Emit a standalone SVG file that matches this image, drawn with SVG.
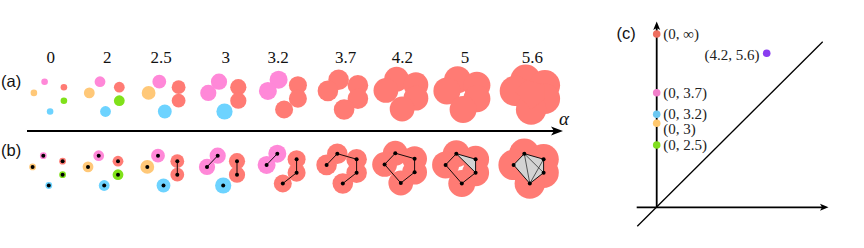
<svg xmlns="http://www.w3.org/2000/svg" xmlns:xlink="http://www.w3.org/1999/xlink" width="864" height="248" viewBox="0 0 864 248">
<defs>
<style>
.pk{fill:#FF88D8}.rd{fill:#FF7B74}.or{fill:#FFC878}.gr{fill:#80E11A}.bl{fill:#6DD3FF}
.d{fill:#000}
.e{stroke:#000;stroke-width:0.9;fill:none}
.ei{stroke:#333;stroke-width:0.8;fill:none}
.tri{fill:#D3D3D3;stroke:none}
.lbl{font-family:"Liberation Serif",serif;font-size:17px;text-anchor:middle;fill:#111}
.pl{font-family:"Liberation Sans",sans-serif;font-size:16.5px;fill:#111}
.cl{font-family:"Liberation Serif",serif;font-size:15px;fill:#222}
.ax{stroke:#000;stroke-width:1.8;fill:none}
</style>
<g id="pts">
</g>
</defs>
<rect width="864" height="248" fill="#fff"/>

<!-- labels -->
<text class="pl" x="1" y="86.5">(a)</text>
<text class="pl" x="1" y="155.5">(b)</text>
<g id="alpha-labels">
<text class="lbl" x="50.7" y="63">0</text>
<text class="lbl" x="107.3" y="63">2</text>
<text class="lbl" x="161" y="63">2.5</text>
<text class="lbl" x="225.7" y="63">3</text>
<text class="lbl" x="278" y="63">3.2</text>
<text class="lbl" x="345.7" y="63">3.7</text>
<text class="lbl" x="402.3" y="63">4.2</text>
<text class="lbl" x="465" y="63">5</text>
<text class="lbl" x="532.3" y="63">5.6</text>
</g>

<!-- row (a) -->
<g id="a0" transform="translate(44.6,81.7)">
<circle class="pk" r="3.3"/><circle class="rd" cx="19.3" cy="5.5" r="3.3"/><circle class="or" cx="-10.7" cy="11.2" r="3.3"/><circle class="gr" cx="19.3" cy="19" r="3.3"/><circle class="bl" cx="5.5" cy="29.8" r="3.3"/>
</g>
<g id="a2" transform="translate(100,81.7)">
<circle class="pk" r="5.4"/><circle class="rd" cx="19.3" cy="5.5" r="5.4"/><circle class="or" cx="-10.7" cy="11.2" r="5.4"/><circle class="gr" cx="19.3" cy="19" r="5.4"/><circle class="bl" cx="5.5" cy="29.8" r="5.4"/>
</g>
<g id="a25" transform="translate(159.3,81.7)">
<circle class="pk" r="6.9"/><circle class="rd" cx="19.3" cy="5.5" r="6.9"/><circle class="or" cx="-10.7" cy="11.2" r="6.9"/><circle class="rd" cx="19.3" cy="19" r="6.9"/><circle class="bl" cx="5.5" cy="29.8" r="6.9"/>
</g>
<g id="a3" transform="translate(219,81.7)">
<circle class="pk" r="8.1"/><circle class="rd" cx="19.3" cy="5.5" r="8.1"/><circle class="pk" cx="-10.7" cy="11.2" r="8.1"/><circle class="rd" cx="19.3" cy="19" r="8.1"/><circle class="bl" cx="5.5" cy="29.8" r="8.1"/>
</g>
<g id="a32" transform="translate(278.6,79.7)">
<circle class="pk" r="9"/><circle class="rd" cx="19.3" cy="5.5" r="9"/><circle class="pk" cx="-10.7" cy="11.2" r="9"/><circle class="rd" cx="19.3" cy="19" r="9"/><circle class="rd" cx="5.5" cy="29.8" r="9"/>
</g>
<g id="a37" transform="translate(338.6,79.7)" class="rd">
<circle r="10.3"/><circle cx="19.3" cy="5.5" r="10.3"/><circle cx="-10.7" cy="11.2" r="10.3"/><circle cx="19.3" cy="19" r="10.3"/><circle cx="5.5" cy="29.8" r="10.3"/>
</g>
<g id="a42" transform="translate(396.6,79.2)" class="rd">
<circle r="12.4"/><circle cx="19.3" cy="5.5" r="12.4"/><circle cx="-10.7" cy="11.2" r="12.4"/><circle cx="19.3" cy="19" r="12.4"/><circle cx="5.5" cy="29.8" r="12.4"/>
</g>
<g id="a5" transform="translate(457.6,79.7)" class="rd">
<circle r="13.5"/><circle cx="19.3" cy="5.5" r="13.5"/><circle cx="-10.7" cy="11.2" r="13.5"/><circle cx="19.3" cy="19" r="13.5"/><circle cx="5.5" cy="29.8" r="13.5"/>
</g>
<g id="a56" transform="translate(525.6,79.7)" class="rd">
<circle r="15.2"/><circle cx="19.3" cy="5.5" r="15.2"/><circle cx="-10.7" cy="11.2" r="15.2"/><circle cx="19.3" cy="19" r="15.2"/><circle cx="5.5" cy="29.8" r="15.2"/>
<polygon points="0,0 19.3,5.5 19.3,19 5.5,29.8 -10.7,11.2"/>
</g>

<!-- alpha axis -->
<g id="connectors">
<line x1="27" y1="131" x2="555" y2="131" stroke="#000" stroke-width="1.8"/>
<polygon points="563,131 551,126.5 554,131 551,135.5" fill="#000"/>
</g>
<text x="559" y="125" font-family="Liberation Serif, serif" font-style="italic" font-size="19" fill="#111">α</text>

<!-- row (b) -->
<g id="b0" transform="translate(43.3,155.7)">
<circle class="pk" r="3.4"/><circle class="rd" cx="19.3" cy="5.5" r="3.4"/><circle class="or" cx="-10.7" cy="11.2" r="3.4"/><circle class="gr" cx="19.3" cy="19" r="3.4"/><circle class="bl" cx="5.5" cy="29.8" r="3.4"/>
<circle class="d" r="2"/><circle class="d" cx="19.3" cy="5.5" r="2"/><circle class="d" cx="-10.7" cy="11.2" r="2"/><circle class="d" cx="19.3" cy="19" r="2"/><circle class="d" cx="5.5" cy="29.8" r="2"/>
</g>
<g id="b2" transform="translate(98.7,155.7)">
<circle class="pk" r="5.4"/><circle class="rd" cx="19.3" cy="5.5" r="5.4"/><circle class="or" cx="-10.7" cy="11.2" r="5.4"/><circle class="gr" cx="19.3" cy="19" r="5.4"/><circle class="bl" cx="5.5" cy="29.8" r="5.4"/>
<circle class="d" r="2"/><circle class="d" cx="19.3" cy="5.5" r="2"/><circle class="d" cx="-10.7" cy="11.2" r="2"/><circle class="d" cx="19.3" cy="19" r="2"/><circle class="d" cx="5.5" cy="29.8" r="2"/>
</g>
<g id="b25" transform="translate(158,155.7)">
<circle class="pk" r="6.9"/><circle class="rd" cx="19.3" cy="5.5" r="6.9"/><circle class="or" cx="-10.7" cy="11.2" r="6.9"/><circle class="rd" cx="19.3" cy="19" r="6.9"/><circle class="bl" cx="5.5" cy="29.8" r="6.9"/>
<path class="e" d="M19.3,5.5L19.3,19"/>
<circle class="d" r="2"/><circle class="d" cx="19.3" cy="5.5" r="2"/><circle class="d" cx="-10.7" cy="11.2" r="2"/><circle class="d" cx="19.3" cy="19" r="2"/><circle class="d" cx="5.5" cy="29.8" r="2"/>
</g>
<g id="b3" transform="translate(217.7,155.7)">
<circle class="pk" r="8.1"/><circle class="rd" cx="19.3" cy="5.5" r="8.1"/><circle class="pk" cx="-10.7" cy="11.2" r="8.1"/><circle class="rd" cx="19.3" cy="19" r="8.1"/><circle class="bl" cx="5.5" cy="29.8" r="8.1"/>
<path class="e" d="M19.3,5.5L19.3,19M0,0L-10.7,11.2"/>
<circle class="d" r="2"/><circle class="d" cx="19.3" cy="5.5" r="2"/><circle class="d" cx="-10.7" cy="11.2" r="2"/><circle class="d" cx="19.3" cy="19" r="2"/><circle class="d" cx="5.5" cy="29.8" r="2"/>
</g>
<g id="b32" transform="translate(277.3,153.7)">
<circle class="pk" r="9"/><circle class="rd" cx="19.3" cy="5.5" r="9"/><circle class="pk" cx="-10.7" cy="11.2" r="9"/><circle class="rd" cx="19.3" cy="19" r="9"/><circle class="rd" cx="5.5" cy="29.8" r="9"/>
<path class="e" d="M19.3,5.5L19.3,19L5.5,29.8M0,0L-10.7,11.2"/>
<circle class="d" r="2"/><circle class="d" cx="19.3" cy="5.5" r="2"/><circle class="d" cx="-10.7" cy="11.2" r="2"/><circle class="d" cx="19.3" cy="19" r="2"/><circle class="d" cx="5.5" cy="29.8" r="2"/>
</g>
<g id="b37" transform="translate(337.3,153.7)">
<g class="rd"><circle r="10.3"/><circle cx="19.3" cy="5.5" r="10.3"/><circle cx="-10.7" cy="11.2" r="10.3"/><circle cx="19.3" cy="19" r="10.3"/><circle cx="5.5" cy="29.8" r="10.3"/></g>
<path class="e" d="M-10.7,11.2L0,0L19.3,5.5L19.3,19L5.5,29.8"/>
<circle class="d" r="2"/><circle class="d" cx="19.3" cy="5.5" r="2"/><circle class="d" cx="-10.7" cy="11.2" r="2"/><circle class="d" cx="19.3" cy="19" r="2"/><circle class="d" cx="5.5" cy="29.8" r="2"/>
</g>
<g id="b42" transform="translate(395.3,153.2)">
<g class="rd"><circle r="12.4"/><circle cx="19.3" cy="5.5" r="12.4"/><circle cx="-10.7" cy="11.2" r="12.4"/><circle cx="19.3" cy="19" r="12.4"/><circle cx="5.5" cy="29.8" r="12.4"/></g>
<path class="e" d="M-10.7,11.2L0,0L19.3,5.5L19.3,19L5.5,29.8Z"/>
<circle class="d" r="2"/><circle class="d" cx="19.3" cy="5.5" r="2"/><circle class="d" cx="-10.7" cy="11.2" r="2"/><circle class="d" cx="19.3" cy="19" r="2"/><circle class="d" cx="5.5" cy="29.8" r="2"/>
</g>
<g id="b5" transform="translate(456.3,153.7)">
<g class="rd"><circle r="13.5"/><circle cx="19.3" cy="5.5" r="13.5"/><circle cx="-10.7" cy="11.2" r="13.5"/><circle cx="19.3" cy="19" r="13.5"/><circle cx="5.5" cy="29.8" r="13.5"/></g>
<polygon class="tri" points="0,0 19.3,5.5 19.3,19"/>
<path class="e" d="M-10.7,11.2L0,0L19.3,5.5L19.3,19L5.5,29.8ZM0,0L19.3,19"/>
<circle class="d" r="2"/><circle class="d" cx="19.3" cy="5.5" r="2"/><circle class="d" cx="-10.7" cy="11.2" r="2"/><circle class="d" cx="19.3" cy="19" r="2"/><circle class="d" cx="5.5" cy="29.8" r="2"/>
</g>
<g id="b56" transform="translate(524.3,153.7)">
<g class="rd"><circle r="15.2"/><circle cx="19.3" cy="5.5" r="15.2"/><circle cx="-10.7" cy="11.2" r="15.2"/><circle cx="19.3" cy="19" r="15.2"/><circle cx="5.5" cy="29.8" r="15.2"/></g>
<polygon class="tri" points="0,0 19.3,5.5 19.3,19 5.5,29.8 -10.7,11.2"/>
<path class="ei" d="M0,0L5.5,29.8M0,0L19.3,19M19.3,5.5L5.5,29.8"/>
<path class="e" d="M-10.7,11.2L0,0L19.3,5.5L19.3,19L5.5,29.8Z"/>
<circle class="d" r="2"/><circle class="d" cx="19.3" cy="5.5" r="2"/><circle class="d" cx="-10.7" cy="11.2" r="2"/><circle class="d" cx="19.3" cy="19" r="2"/><circle class="d" cx="5.5" cy="29.8" r="2"/>
</g>

<!-- panel (c) -->
<text class="pl" x="616.5" y="39">(c)</text>
<g id="c-axes">
<line class="ax" x1="656.7" y1="207.3" x2="656.7" y2="28"/>
<polygon points="656.7,21.5 653.2,30 656.7,28 660.2,30" fill="#000"/>
<line class="ax" x1="636.7" y1="207.3" x2="822" y2="207.3"/>
<polygon points="828.5,207.3 820,203.8 822,207.3 820,210.8" fill="#000"/>
<line x1="637.3" y1="226.3" x2="822.7" y2="41.7" stroke="#000" stroke-width="1.3"/>
</g>
<g id="c-inf"><circle cx="656.7" cy="34" r="3.8" fill="#EE6E5F"/><text class="cl" x="663.3" y="39">(0, ∞)</text></g>
<g id="c-hole"><circle cx="766.7" cy="53.3" r="3.8" fill="#8A3CF0"/><text class="cl" x="759.5" y="59.5" text-anchor="end">(4.2, 5.6)</text></g>
<g id="c-37"><circle cx="656.7" cy="92.7" r="3.8" fill="#F27FCB"/><text class="cl" x="663.3" y="98">(0, 3.7)</text></g>
<g id="c-32"><circle cx="656.7" cy="114.3" r="3.8" fill="#6CC8F2"/><text class="cl" x="663.3" y="118.5">(0, 3.2)</text></g>
<g id="c-3"><circle cx="656.7" cy="123.3" r="3.8" fill="#FFC86E"/><text class="cl" x="663.3" y="134">(0, 3)</text></g>
<g id="c-25"><circle cx="656.7" cy="145" r="3.8" fill="#80DE1E"/><text class="cl" x="663.3" y="150">(0, 2.5)</text></g>
</svg>
